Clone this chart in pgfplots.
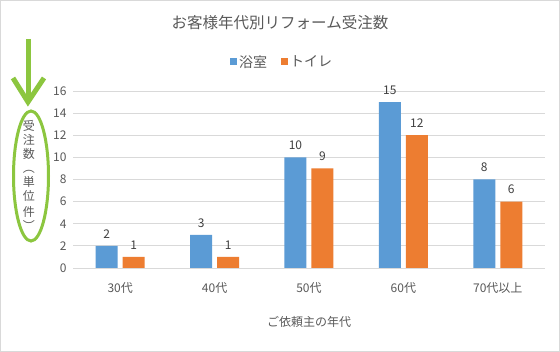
\documentclass[border=0pt]{standalone}
\usepackage{pgfplots}
\pgfplotsset{compat=1.18}
\usepackage{fontspec}
\setmainfont{Noto Sans CJK JP}
\definecolor{cblue}{HTML}{5B9BD5}
\definecolor{corange}{HTML}{ED7D31}
\definecolor{cgrid}{HTML}{D9D9D9}
\definecolor{ctext}{HTML}{595959}
\definecolor{cdark}{HTML}{404040}
\definecolor{cgreen}{HTML}{8CC63F}
\begin{document}
\begin{tikzpicture}[x=1pt,y=1pt]
\fill[white] (0,0) rectangle (560,352);
\draw[cgrid,line width=1pt] (0.5,0.5) rectangle (559.5,351.5);
\node[text=ctext,font=\fontsize{15.5}{18}\selectfont] at (280,329) {お客様年代別リフォーム受注数};
\begin{axis}[
  at={(73pt,84pt)}, anchor=south west,
  scale only axis, width=472pt, height=177pt,
  xmin=-0.5, xmax=4.5, ymin=0, ymax=16,
  ytick={0,2,...,16},
  xtick={0,1,2,3,4},
  xticklabels={30代,40代,50代,60代,70代以上},
  ybar=5pt, bar width=22pt,
  axis line style={draw=none},
  ymajorgrids, grid style={cgrid,line width=0.8pt},
  major tick length=0pt,
  tick label style={text=ctext,font=\fontsize{12}{14}\selectfont},
  /pgf/number format/assume math mode=true,
  yticklabel style={xshift=-3pt},
  xticklabel style={yshift=-11pt},
  nodes near coords,
  nodes near coords style={text=cdark,font=\fontsize{12}{14}\selectfont,yshift=4pt},
  legend style={at={(0.443,1.164)}, anchor=center, draw=none, fill=none,
    legend columns=2, font=\fontsize{14}{16}\selectfont, text=ctext,
    /tikz/every even column/.append style={column sep=12pt}},
  legend image code/.code={\fill[#1] (0pt,-3.5pt) rectangle (7pt,3.5pt);},
  clip=false,
]
\addplot[fill=cblue,draw=none] coordinates {(0,2) (1,3) (2,10) (3,15) (4,8)};
\addplot[fill=corange,draw=none] coordinates {(0,1) (1,1) (2,9) (3,12) (4,6)};
\legend{浴室,トイレ}
\end{axis}
\node[text=ctext,font=\fontsize{12}{14}\selectfont] at (309,30) {ご依頼主の年代};
\node[text=ctext,font=\fontsize{12}{14}\selectfont,align=center,inner sep=0pt] at (29,177)
  {受\\注\\数\\︵\\単\\位\\[2pt]件\\︶};
\draw[cgreen,line width=3pt] (31,176) ellipse [x radius=17.5, y radius=65];
\draw[cgreen,line width=5pt] (28,313) -- (28,252);
\draw[cgreen,line width=5pt,line join=miter] (13,274) -- (28,250) -- (44,274);
\end{tikzpicture}
\end{document}
